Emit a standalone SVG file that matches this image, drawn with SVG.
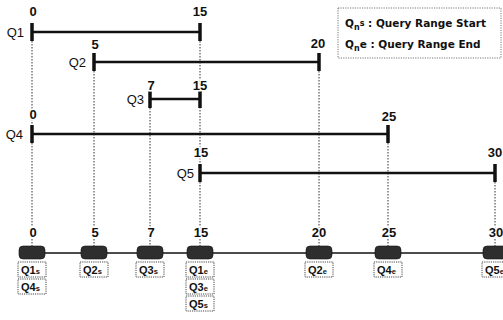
<svg xmlns="http://www.w3.org/2000/svg" width="503" height="320" viewBox="0 0 503 320">
<style>
.num{font-family:"Liberation Sans",Arial,sans-serif;font-size:13px;font-weight:bold;fill:#111;text-anchor:middle;stroke:#fff;stroke-width:3;paint-order:stroke}
.ql{font-family:"Liberation Sans",Arial,sans-serif;font-size:13px;fill:#111;text-anchor:end}
.bar{stroke:#111;stroke-width:2.6;fill:none}
.tick{stroke:#111;stroke-width:3.5}
.dot{stroke:#333;stroke-width:1;stroke-dasharray:1.5 1.5;fill:none}
.blk{fill:#2e2e2e;stroke:#111;stroke-width:0.6}
.lab{fill:#fff;stroke:#333;stroke-width:0.9;stroke-dasharray:1.2 1}
.lt{font-family:"Liberation Sans",Arial,sans-serif;font-size:11px;font-weight:bold;fill:#111}
.lg{font-family:"DejaVu Sans","Liberation Sans",sans-serif;font-size:10.5px;font-weight:bold;fill:#111}
</style>
<rect width="503" height="320" fill="#fff"/>
<g id="connectors">
<line class="dot" x1="32" y1="32" x2="32" y2="247"/>
<line class="dot" x1="94" y1="62" x2="94" y2="247"/>
<line class="dot" x1="150" y1="99" x2="150" y2="247"/>
<line class="dot" x1="200" y1="32" x2="200" y2="247"/>
<line class="dot" x1="319" y1="62" x2="319" y2="247"/>
<line class="dot" x1="388" y1="134" x2="388" y2="247"/>
<line class="dot" x1="495" y1="173" x2="495" y2="247"/>
<line x1="19" y1="253" x2="503" y2="253" stroke="#111" stroke-width="1.4"/>
</g>
<g id="Q1">
<line class="bar" x1="32" y1="32" x2="200" y2="32"/>
<line class="tick" x1="32" y1="23" x2="32" y2="41"/>
<line class="tick" x1="200" y1="23" x2="200" y2="41"/>
<text class="ql" x="24" y="37">Q1</text>
<text class="num" x="33" y="16">0</text>
<text class="num" x="200" y="16">15</text>
</g>
<g id="Q2">
<line class="bar" x1="94" y1="62" x2="319" y2="62"/>
<line class="tick" x1="94" y1="53" x2="94" y2="71"/>
<line class="tick" x1="319" y1="53" x2="319" y2="71"/>
<text class="ql" x="86" y="67">Q2</text>
<text class="num" x="95" y="49">5</text>
<text class="num" x="318" y="48">20</text>
</g>
<g id="Q3">
<line class="bar" x1="150" y1="99" x2="200" y2="99"/>
<line class="tick" x1="150" y1="90" x2="150" y2="108"/>
<line class="tick" x1="200" y1="90" x2="200" y2="108"/>
<text class="ql" x="144" y="104">Q3</text>
<text class="num" x="151" y="90">7</text>
<text class="num" x="200" y="90">15</text>
</g>
<g id="Q4">
<line class="bar" x1="32" y1="134" x2="388" y2="134"/>
<line class="tick" x1="32" y1="125" x2="32" y2="143"/>
<line class="tick" x1="388" y1="125" x2="388" y2="143"/>
<text class="ql" x="23" y="139">Q4</text>
<text class="num" x="33" y="119">0</text>
<text class="num" x="389" y="121">25</text>
</g>
<g id="Q5">
<line class="bar" x1="200" y1="173" x2="495" y2="173"/>
<line class="tick" x1="200" y1="164" x2="200" y2="182"/>
<line class="tick" x1="495" y1="164" x2="495" y2="182"/>
<text class="ql" x="194" y="178">Q5</text>
<text class="num" x="201" y="157">15</text>
<text class="num" x="495" y="157">30</text>
</g>
<g id="legend">
<rect x="338" y="8" width="163" height="50" fill="#fff" stroke="#555" stroke-width="0.8" stroke-dasharray="1.2 1.2"/>
<text class="lg" x="345" y="27">Q<tspan font-size="8" dy="3">n</tspan><tspan font-size="8" dy="-4">s</tspan><tspan dy="1"> : Query Range Start</tspan></text>
<text class="lg" x="345" y="48">Q<tspan font-size="8" dy="3">n</tspan><tspan dy="-3">e : Query Range End</tspan></text>
</g>
<g id="t0">
<text class="num" x="33" y="237">0</text>
<rect class="blk" x="19" y="246" width="26" height="13" rx="4"/>
<rect class="lab" x="18" y="262" width="28" height="15"/>
<text class="lt" x="21" y="273.5">Q1<tspan font-size="7.5">s</tspan></text>
<rect class="lab" x="18" y="279" width="28" height="15"/>
<text class="lt" x="21" y="290.5">Q4<tspan font-size="7.5">s</tspan></text>
</g>
<g id="t5">
<text class="num" x="95" y="237">5</text>
<rect class="blk" x="81" y="246" width="26" height="13" rx="4"/>
<rect class="lab" x="80" y="262" width="28" height="15"/>
<text class="lt" x="83" y="273.5">Q2<tspan font-size="7.5">s</tspan></text>
</g>
<g id="t7">
<text class="num" x="151" y="237">7</text>
<rect class="blk" x="137" y="246" width="26" height="13" rx="4"/>
<rect class="lab" x="136" y="262" width="28" height="15"/>
<text class="lt" x="139" y="273.5">Q3<tspan font-size="7.5">s</tspan></text>
</g>
<g id="t15">
<text class="num" x="201" y="237">15</text>
<rect class="blk" x="187" y="246" width="26" height="13" rx="4"/>
<rect class="lab" x="186" y="262" width="28" height="15"/>
<text class="lt" x="189" y="273.5">Q1<tspan font-size="7.5">e</tspan></text>
<rect class="lab" x="186" y="279" width="28" height="15"/>
<text class="lt" x="189" y="290.5">Q3<tspan font-size="7.5">e</tspan></text>
<rect class="lab" x="186" y="296" width="28" height="15"/>
<text class="lt" x="189" y="307.5">Q5<tspan font-size="7.5">s</tspan></text>
</g>
<g id="t20">
<text class="num" x="319" y="237">20</text>
<rect class="blk" x="306" y="246" width="26" height="13" rx="4"/>
<rect class="lab" x="305" y="262" width="28" height="15"/>
<text class="lt" x="308" y="273.5">Q2<tspan font-size="7.5">e</tspan></text>
</g>
<g id="t25">
<text class="num" x="389" y="237">25</text>
<rect class="blk" x="375" y="246" width="26" height="13" rx="4"/>
<rect class="lab" x="374" y="262" width="28" height="15"/>
<text class="lt" x="377" y="273.5">Q4<tspan font-size="7.5">e</tspan></text>
</g>
<g id="t30">
<text class="num" x="496" y="237">30</text>
<rect class="blk" x="483" y="246" width="26" height="13" rx="4"/>
<rect class="lab" x="482" y="262" width="28" height="15"/>
<text class="lt" x="485" y="273.5">Q5<tspan font-size="7.5">e</tspan></text>
</g>
</svg>
